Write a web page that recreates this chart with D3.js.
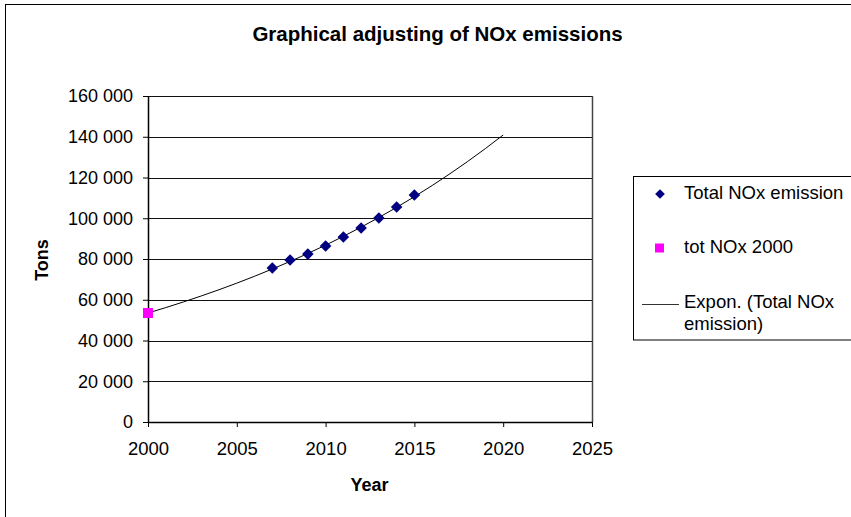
<!DOCTYPE html>
<html>
<head>
<meta charset="utf-8">
<script src="https://cdn.jsdelivr.net/npm/d3@7"></script>
<style>
  body { margin: 0; background: #fff; }
  svg { display: block; font-family: "Liberation Sans", Arial, sans-serif; }
</style>
</head>
<body>
<svg id="chart" width="851" height="517"></svg>
<script>
// Observed emissions (tons)
const years = [2007, 2008, 2009, 2010, 2011, 2012, 2013, 2014, 2015];
const totalNOx = [75600, 79500, 82400, 86400, 90800, 95200, 100100, 105500, 111400];

// Reference year value
const baseYear = [2000];
const baseNOx = [53500];

// Exponential trend of the total emissions, one value per year
const trendYears = [2000, 2001, 2002, 2003, 2004, 2005, 2006, 2007, 2008, 2009, 2010,
                    2011, 2012, 2013, 2014, 2015, 2016, 2017, 2018, 2019, 2020];
const trendNOx = [53500, 56150, 58940, 61860, 64930, 68150, 71530, 75080, 78800, 82710, 86810,
                  91120, 95640, 100380, 105360, 110590, 116070, 121830, 127870, 134220, 140870];

// Axis ticks
const xTicks = [2000, 2005, 2010, 2015, 2020, 2025];
const yTicks = [0, 20000, 40000, 60000, 80000, 100000, 120000, 140000, 160000];

const svg = d3.select("#chart");
const FONT = "'Liberation Sans', Arial, sans-serif";

// Outer chart frame
svg.append("rect")
  .attr("x", 5.5).attr("y", 4.5).attr("width", 900).attr("height", 600)
  .attr("fill", "none").attr("stroke", "#000").attr("stroke-width", 1);

const x = d3.scaleLinear().domain([2000, 2025]).range([148, 592]);
const y = d3.scaleLinear().domain([0, 160000]).range([422, 96]);

const fmt = v => d3.format(",")(v).replace(/,/g, " ");

// Horizontal gridlines
svg.append("g").selectAll("line").data(yTicks.filter(d => d > 0)).join("line")
  .attr("x1", x(2000)).attr("x2", x(2025))
  .attr("y1", d => Math.round(y(d)) + 0.5).attr("y2", d => Math.round(y(d)) + 0.5)
  .attr("stroke", "#111").attr("stroke-width", 1);

// Plot area right edge
svg.append("line")
  .attr("x1", Math.round(x(2025)) + 0.5).attr("x2", Math.round(x(2025)) + 0.5)
  .attr("y1", y(160000)).attr("y2", y(0))
  .attr("stroke", "#444").attr("stroke-width", 1.5);

// Y axis
const yAxis = d3.axisLeft(y).tickValues(yTicks).tickFormat(fmt).tickSizeInner(5).tickSizeOuter(0).tickPadding(10);
const gy = svg.append("g").attr("transform", `translate(${x(2000)},0)`).call(yAxis);
gy.select(".domain").attr("stroke", "#000").attr("stroke-width", 1.5);
gy.selectAll(".tick line").attr("stroke", "#000");
gy.selectAll("text").attr("font-size", 18).attr("fill", "#000").attr("font-family", FONT);

// X axis
const xAxis = d3.axisBottom(x).tickValues(xTicks).tickFormat(d3.format("d")).tickSizeInner(5).tickSizeOuter(0).tickPadding(15);
const gx = svg.append("g").attr("transform", `translate(0,${y(0)})`).call(xAxis);
gx.select(".domain").attr("stroke", "#000").attr("stroke-width", 1.5);
gx.selectAll(".tick line").attr("stroke", "#000");
gx.selectAll("text").attr("font-size", 18.5).attr("fill", "#000").attr("font-family", FONT);

// Trend line
const line = d3.line().x((d, i) => x(trendYears[i])).y(d => y(d));
svg.append("path").datum(trendNOx)
  .attr("d", line).attr("fill", "none").attr("stroke", "#000").attr("stroke-width", 1);

// Markers
const diamond = d3.symbol().type(d3.symbolDiamond2).size(85);
const square = d3.symbol().type(d3.symbolSquare).size(100);

svg.append("g").selectAll("path").data(totalNOx).join("path")
  .attr("d", diamond)
  .attr("transform", (d, i) => `translate(${x(years[i])},${y(d)})`)
  .attr("fill", "#000080");

svg.append("g").selectAll("path").data(baseNOx).join("path")
  .attr("d", square)
  .attr("transform", (d, i) => `translate(${x(baseYear[i])},${y(d)})`)
  .attr("fill", "#FF00FF");

// Titles
svg.append("text").attr("x", 437.5).attr("y", 41).attr("text-anchor", "middle")
  .attr("font-size", 20.5).attr("font-weight", "bold").text("Graphical adjusting of NOx emissions");
svg.append("text").attr("x", 369.5).attr("y", 491).attr("text-anchor", "middle")
  .attr("font-size", 18).attr("font-weight", "bold").text("Year");
svg.append("text").attr("transform", "translate(47.5,260) rotate(-90)").attr("text-anchor", "middle")
  .attr("font-size", 18).attr("font-weight", "bold").text("Tons");

// Legend
const lg = svg.append("g").attr("font-size", 18.5);
lg.append("rect").attr("x", 633.5).attr("y", 176.5).attr("width", 260).attr("height", 163.5)
  .attr("fill", "#fff").attr("stroke", "#000").attr("stroke-width", 1);
lg.append("path").attr("d", d3.symbol().type(d3.symbolDiamond2).size(60))
  .attr("transform", "translate(660,194)").attr("fill", "#000080");
lg.append("text").attr("x", 684).attr("y", 199).text("Total NOx emission");
lg.append("rect").attr("x", 655).attr("y", 243.5).attr("width", 9).attr("height", 9).attr("fill", "#FF00FF");
lg.append("text").attr("x", 684).attr("y", 253).text("tot NOx 2000");
lg.append("line").attr("x1", 642).attr("x2", 679).attr("y1", 304.5).attr("y2", 304.5)
  .attr("stroke", "#333").attr("stroke-width", 1);
lg.append("text").attr("x", 684).attr("y", 308).text("Expon. (Total NOx");
lg.append("text").attr("x", 684).attr("y", 330).text("emission)");
</script>
</body>
</html>
